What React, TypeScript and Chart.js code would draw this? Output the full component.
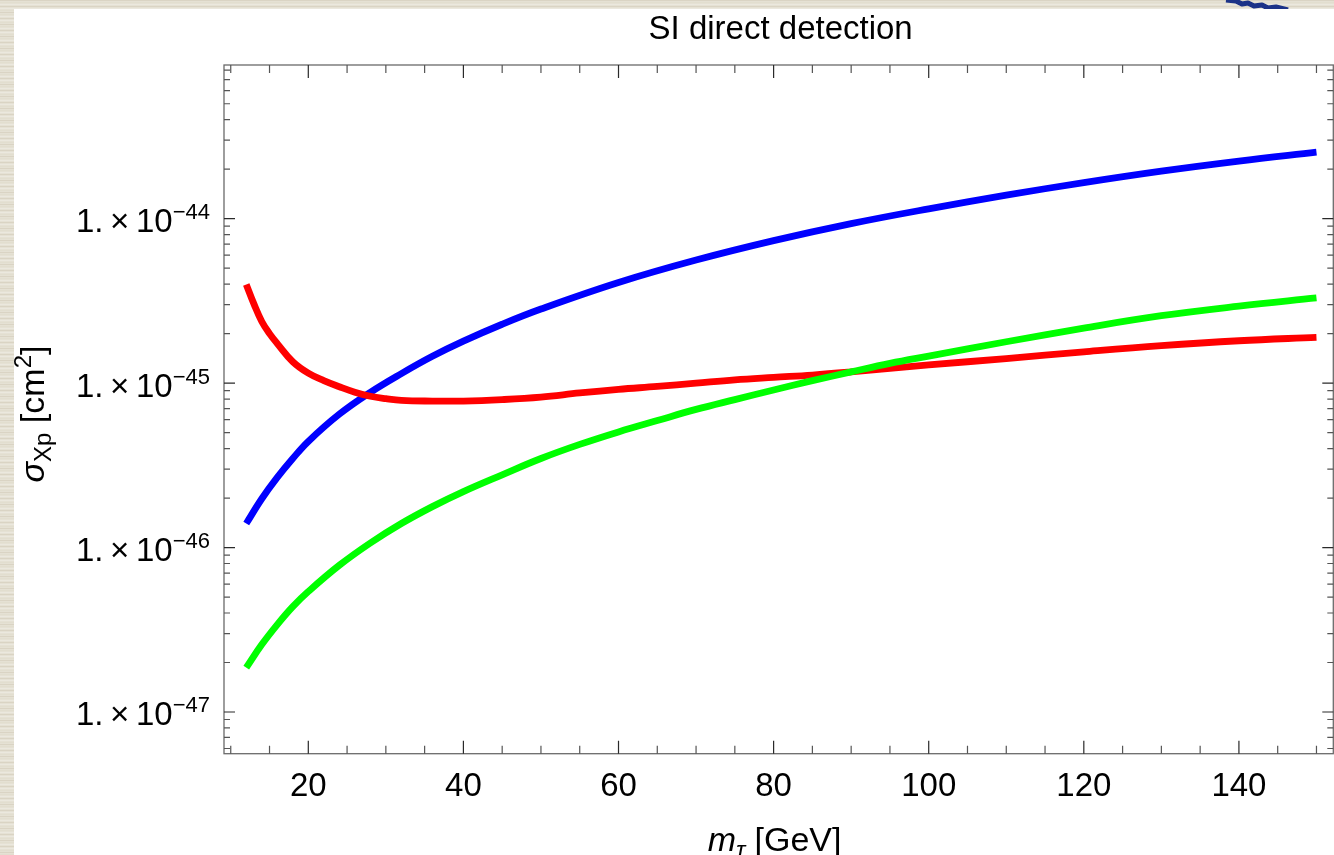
import React, { useEffect, useRef } from "react";
import { Chart, registerables } from "chart.js";

Chart.register(...registerables);

const W = 1334;
const H = 855;

// ---- data ----
const BLUE_MASS = [12, 14, 16, 18, 20, 24, 28, 32, 36, 40, 45, 50, 60, 70, 80, 90, 100, 110, 120, 130, 140, 150];
const BLUE_SIGMA = [1.40e-46, 1.98e-46, 2.67e-46, 3.48e-46, 4.42e-46, 6.47e-46, 8.79e-46, 1.143e-45, 1.456e-45, 1.80e-45, 2.28e-45, 2.82e-45, 4.09e-45, 5.60e-45, 7.35e-45, 9.33e-45, 1.148e-44, 1.39e-44, 1.656e-44, 1.945e-44, 2.24e-44, 2.535e-44];

const RED_MASS = [12, 13, 14, 15, 16, 18, 20, 22, 24, 26, 28, 30, 32, 36, 40, 45, 50, 55, 60, 65, 70, 75, 80, 85, 90, 95, 100, 110, 120, 130, 140, 150];
const RED_SIGMA = [3.98e-45, 3.02e-45, 2.37e-45, 2.00e-45, 1.74e-45, 1.35e-45, 1.15e-45, 1.035e-45, 9.51e-46, 8.81e-46, 8.32e-46, 8.04e-46, 7.85e-46, 7.78e-46, 7.78e-46, 7.94e-46, 8.22e-46, 8.71e-46, 9.16e-46, 9.55e-46, 1.0e-45, 1.047e-45, 1.084e-45, 1.12e-45, 1.17e-45, 1.23e-45, 1.29e-45, 1.41e-45, 1.55e-45, 1.69e-45, 1.81e-45, 1.90e-45];

const GREEN_MASS = [12, 14, 16, 18, 20, 24, 28, 32, 36, 40, 45, 50, 55, 60, 65, 70, 75, 80, 85, 90, 95, 100, 110, 120, 130, 140, 150];
const GREEN_SIGMA = [1.86e-47, 2.57e-47, 3.40e-47, 4.37e-47, 5.40e-47, 7.80e-47, 1.066e-46, 1.40e-46, 1.774e-46, 2.19e-46, 2.77e-46, 3.48e-46, 4.24e-46, 5.05e-46, 5.92e-46, 6.92e-46, 7.94e-46, 9.08e-46, 1.035e-45, 1.17e-45, 1.318e-45, 1.46e-45, 1.785e-45, 2.16e-45, 2.57e-45, 2.94e-45, 3.30e-45];

// ---- axes ----
const X_MIN = 9.13;
const X_MAX = 152.17;
const Y_MIN = 5.577e-48;
const Y_MAX = 8.6e-44;

const X_MAJOR_TICKS = [20, 40, 60, 80, 100, 120, 140];
const X_TICK_LABELS = ["20", "40", "60", "80", "100", "120", "140"];
const X_MINOR_TICKS = [10, 15, 25, 30, 35, 45, 50, 55, 65, 70, 75, 85, 90, 95, 105, 110, 115, 125, 130, 135, 145, 150];

const Y_MAJOR_TICKS = [1e-47, 1e-46, 1e-45, 1e-44];
const Y_TICK_EXPONENTS = ["\u221247", "\u221246", "\u221245", "\u221244"];
const Y_DECADES = [-48, -47, -46, -45, -44];
const Y_MINOR_MULTIPLIERS = [2, 3, 4, 5, 6, 7, 8, 9];

const TITLE = "SI direct detection";

const FONT = '"Liberation Sans", Arial, Helvetica, sans-serif';

function drawPieces(ctx: CanvasRenderingContext2D, pieces: { t: string; font: string; dy: number }[], x0: number, y0: number, align: "left" | "center" | "right") {
  let total = 0;
  const widths = pieces.map((p) => {
    ctx.font = p.font;
    const w = ctx.measureText(p.t).width;
    total += w;
    return w;
  });
  let x = x0;
  if (align === "center") x = x0 - total / 2;
  if (align === "right") x = x0 - total;
  ctx.textAlign = "left";
  ctx.textBaseline = "alphabetic";
  pieces.forEach((p, i) => {
    ctx.font = p.font;
    ctx.fillText(p.t, x, y0 + p.dy);
    x += widths[i];
  });
}

const decorPlugin = {
  id: "decor",
  beforeDraw(chart: any) {
    const ctx: CanvasRenderingContext2D = chart.ctx;
    ctx.save();
    ctx.fillStyle = "#e5e1d4";
    ctx.fillRect(0, 0, W, H);
    for (let y = 0; y < H; y += 2) {
      ctx.fillStyle = y % 6 === 0 ? "rgba(190,180,155,0.28)" : y % 4 === 0 ? "rgba(255,255,250,0.25)" : "rgba(215,208,188,0.2)";
      ctx.fillRect(0, y, W, 1);
    }
    // small decorative swirl at top right of the slide background
    ctx.strokeStyle = "#1c3388";
    ctx.lineWidth = 5;
    ctx.lineJoin = "round";
    ctx.beginPath();
    ctx.moveTo(1226, 0);
    ctx.lineTo(1236, 1);
    ctx.lineTo(1242, 4);
    ctx.lineTo(1248, 3);
    ctx.lineTo(1254, 6);
    ctx.lineTo(1262, 5);
    ctx.lineTo(1268, 8);
    ctx.lineTo(1276, 7);
    ctx.lineTo(1288, 10);
    ctx.stroke();
    ctx.fillStyle = "#ffffff";
    ctx.fillRect(14, 9, W - 14, H - 9);
    ctx.restore();
  },
  afterDraw(chart: any) {
    const ctx: CanvasRenderingContext2D = chart.ctx;
    const a = chart.chartArea;
    const xs = chart.scales.x;
    const ys = chart.scales.y;
    ctx.save();

    // frame
    ctx.strokeStyle = "#6a6a6a";
    ctx.lineWidth = 1.3;
    ctx.strokeRect(a.left, a.top, a.right - a.left, a.bottom - a.top);

    // x ticks
    const xTick = (v: number, len: number, color: string) => {
      const px = xs.getPixelForValue(v);
      ctx.strokeStyle = color;
      ctx.beginPath();
      ctx.moveTo(px, a.bottom);
      ctx.lineTo(px, a.bottom - len);
      ctx.moveTo(px, a.top);
      ctx.lineTo(px, a.top + len);
      ctx.stroke();
    };
    ctx.lineWidth = 1.2;
    X_MAJOR_TICKS.forEach((v) => xTick(v, 13, "#2a2a2a"));
    X_MINOR_TICKS.forEach((v) => xTick(v, 8, "#555555"));

    // y ticks
    const yTick = (v: number, len: number, color: string) => {
      const py = ys.getPixelForValue(v);
      if (py < a.top - 0.5 || py > a.bottom + 0.5) return;
      ctx.strokeStyle = color;
      ctx.beginPath();
      ctx.moveTo(a.left, py);
      ctx.lineTo(a.left + len, py);
      ctx.moveTo(a.right, py);
      ctx.lineTo(a.right - len, py);
      ctx.stroke();
    };
    Y_MAJOR_TICKS.forEach((v) => yTick(v, 11, "#2a2a2a"));
    Y_DECADES.forEach((d) => Y_MINOR_MULTIPLIERS.forEach((m) => yTick(m * Math.pow(10, d), 6, "#555555")));

    ctx.fillStyle = "#000000";

    // x tick labels
    ctx.font = `33px ${FONT}`;
    ctx.textAlign = "center";
    ctx.textBaseline = "alphabetic";
    X_MAJOR_TICKS.forEach((v, i) => {
      ctx.fillText(X_TICK_LABELS[i], xs.getPixelForValue(v), a.bottom + 42);
    });

    // y tick labels: 1.×10^n
    Y_MAJOR_TICKS.forEach((v, i) => {
      const py = ys.getPixelForValue(v);
      drawPieces(
        ctx,
        [
          { t: "1.\u2009\u00d7\u200910", font: `33px ${FONT}`, dy: 13.5 },
          { t: Y_TICK_EXPONENTS[i], font: `22px ${FONT}`, dy: 0.5 },
        ],
        a.left - 14,
        py,
        "right"
      );
    });

    // title
    ctx.font = `33px ${FONT}`;
    ctx.textAlign = "center";
    ctx.fillText(TITLE, (a.left + a.right) / 2 + 2, 39);

    // x axis label: m_τ [GeV]
    drawPieces(
      ctx,
      [
        { t: "m", font: `italic 34px ${FONT}`, dy: 0 },
        { t: "\u03c4", font: `italic 24px ${FONT}`, dy: 7 },
        { t: " [GeV]", font: `34px ${FONT}`, dy: 0 },
      ],
      (a.left + a.right) / 2 - 4,
      851,
      "center"
    );

    // y axis label: σ_Xp [cm^2]
    ctx.save();
    ctx.translate(44, 414);
    ctx.rotate(-Math.PI / 2);
    drawPieces(
      ctx,
      [
        { t: "\u03c3", font: `italic 34px ${FONT}`, dy: 0 },
        { t: "Xp", font: `24px ${FONT}`, dy: 7 },
        { t: " [cm", font: `34px ${FONT}`, dy: 0 },
        { t: "2", font: `24px ${FONT}`, dy: -13 },
        { t: "]", font: `34px ${FONT}`, dy: 0 },
      ],
      0,
      0,
      "center"
    );
    ctx.restore();

    ctx.restore();
  },
};

function toPoints(xs: number[], ys: number[]) {
  return xs.map((x, i) => ({ x, y: ys[i] }));
}

export default function App() {
  const ref = useRef<HTMLCanvasElement | null>(null);

  useEffect(() => {
    if (!ref.current) return;
    const lineStyle = {
      borderWidth: 6.8,
      pointRadius: 0,
      fill: false,
      tension: 0.4,
      borderCapStyle: "butt" as const,
      borderJoinStyle: "round" as const,
    };
    const chart = new Chart(ref.current, {
      type: "line",
      data: {
        datasets: [
          { label: "green", data: toPoints(GREEN_MASS, GREEN_SIGMA), borderColor: "#00ff00", ...lineStyle },
          { label: "red", data: toPoints(RED_MASS, RED_SIGMA), borderColor: "#ff0000", ...lineStyle },
          { label: "blue", data: toPoints(BLUE_MASS, BLUE_SIGMA), borderColor: "#0000ff", ...lineStyle },
        ],
      },
      options: {
        animation: false,
        responsive: false,
        devicePixelRatio: 1,
        layout: { padding: { left: 224, top: 65, right: 0.7, bottom: H - 753.7 } },
        plugins: {
          legend: { display: false },
          tooltip: { enabled: false },
          title: { display: false },
        },
        scales: {
          x: { type: "linear", min: X_MIN, max: X_MAX, display: false },
          y: { type: "logarithmic", min: Y_MIN, max: Y_MAX, display: false },
        },
      },
      plugins: [decorPlugin],
    });
    return () => chart.destroy();
  }, []);

  return (
    <div style={{ position: "fixed", left: 0, top: 0, width: W, height: H, overflow: "hidden" }}>
      <canvas ref={ref} width={W} height={H} style={{ display: "block", width: W, height: H }} />
    </div>
  );
}
